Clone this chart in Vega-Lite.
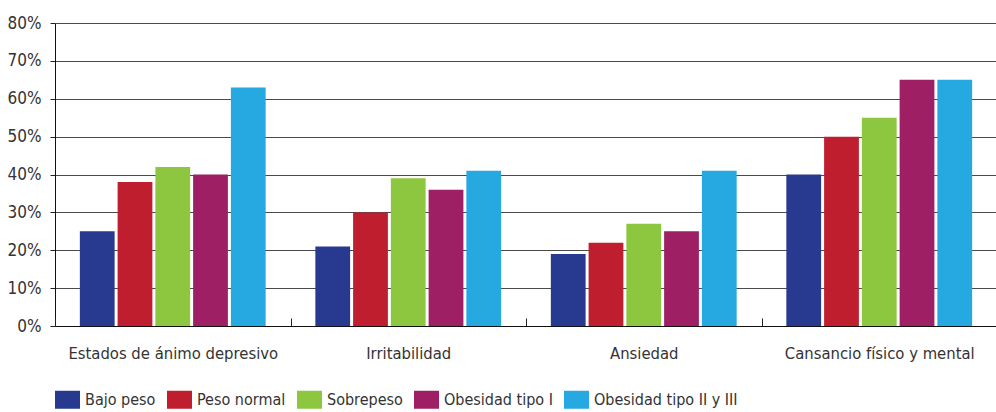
{
  "$schema": "https://vega.github.io/schema/vega-lite/v6.json",
  "width": 942,
  "height": 303,
  "padding": {"left": 7, "top": 14, "right": 0, "bottom": 5},
  "autosize": {"type": "pad"},
  "config": {
    "view": {"stroke": null},
    "font": "DejaVu Sans Condensed",
    "axis": {"labelFont": "DejaVu Sans Condensed", "labelColor": "#333333"},
    "legend": {"labelFont": "DejaVu Sans Condensed", "labelColor": "#333333"}
  },
  "data": {
    "values": [
      {"sintoma": "Estados de ánimo depresivo", "grupo": "Bajo peso", "valor": 25},
      {"sintoma": "Estados de ánimo depresivo", "grupo": "Peso normal", "valor": 38},
      {"sintoma": "Estados de ánimo depresivo", "grupo": "Sobrepeso", "valor": 42},
      {"sintoma": "Estados de ánimo depresivo", "grupo": "Obesidad tipo I", "valor": 40},
      {"sintoma": "Estados de ánimo depresivo", "grupo": "Obesidad tipo II y III", "valor": 63},
      {"sintoma": "Irritabilidad", "grupo": "Bajo peso", "valor": 21},
      {"sintoma": "Irritabilidad", "grupo": "Peso normal", "valor": 30},
      {"sintoma": "Irritabilidad", "grupo": "Sobrepeso", "valor": 39},
      {"sintoma": "Irritabilidad", "grupo": "Obesidad tipo I", "valor": 36},
      {"sintoma": "Irritabilidad", "grupo": "Obesidad tipo II y III", "valor": 41},
      {"sintoma": "Ansiedad", "grupo": "Bajo peso", "valor": 19},
      {"sintoma": "Ansiedad", "grupo": "Peso normal", "valor": 22},
      {"sintoma": "Ansiedad", "grupo": "Sobrepeso", "valor": 27},
      {"sintoma": "Ansiedad", "grupo": "Obesidad tipo I", "valor": 25},
      {"sintoma": "Ansiedad", "grupo": "Obesidad tipo II y III", "valor": 41},
      {"sintoma": "Cansancio físico y mental", "grupo": "Bajo peso", "valor": 40},
      {"sintoma": "Cansancio físico y mental", "grupo": "Peso normal", "valor": 50},
      {"sintoma": "Cansancio físico y mental", "grupo": "Sobrepeso", "valor": 55},
      {"sintoma": "Cansancio físico y mental", "grupo": "Obesidad tipo I", "valor": 65},
      {"sintoma": "Cansancio físico y mental", "grupo": "Obesidad tipo II y III", "valor": 65}
    ]
  },
  "mark": {"type": "bar"},
  "encoding": {
    "x": {
      "field": "sintoma",
      "type": "nominal",
      "sort": null,
      "title": null,
      "scale": {"paddingInner": 0, "paddingOuter": 0},
      "axis": {
        "labelAngle": 0,
        "labelFontSize": 16.5,
        "labelLimit": 0,
        "labelPadding": 27,
        "tickBand": "extent",
        "tickSize": -8,
        "tickColor": "#222222",
        "domainColor": "#111111",
        "domainWidth": 1.2,
        "grid": false,
        "zindex": 1
      }
    },
    "xOffset": {
      "field": "grupo",
      "type": "nominal",
      "sort": ["Bajo peso", "Peso normal", "Sobrepeso", "Obesidad tipo I", "Obesidad tipo II y III"],
      "scale": {"paddingInner": 0.079, "paddingOuter": 0.658}
    },
    "y": {
      "field": "valor",
      "type": "quantitative",
      "title": null,
      "scale": {"domain": [0, 80], "nice": false},
      "axis": {
        "values": [0, 10, 20, 30, 40, 50, 60, 70, 80],
        "labelExpr": "datum.value + '%'",
        "labelFontSize": 17,
        "labelPadding": 9,
        "tickSize": 5,
        "tickColor": "#222222",
        "domainColor": "#111111",
        "gridColor": "#4a4a4a",
        "gridWidth": 1,
        "gridOpacity": 1
      }
    },
    "color": {
      "field": "grupo",
      "type": "nominal",
      "sort": ["Bajo peso", "Peso normal", "Sobrepeso", "Obesidad tipo I", "Obesidad tipo II y III"],
      "scale": {
        "domain": ["Bajo peso", "Peso normal", "Sobrepeso", "Obesidad tipo I", "Obesidad tipo II y III"],
        "range": ["#283A8F", "#BE1E2D", "#8DC63F", "#9E1F63", "#25A9E0"]
      },
      "legend": {
        "title": null,
        "orient": "bottom",
        "direction": "horizontal",
        "symbolType": "M-1,-0.72H1V0.72H-1Z",
        "symbolSize": 625,
        "symbolStrokeWidth": 0,
        "symbolOpacity": 1,
        "labelFontSize": 16,
        "columnPadding": 11,
        "labelOffset": 5,
        "offset": 25
      }
    }
  }
}
